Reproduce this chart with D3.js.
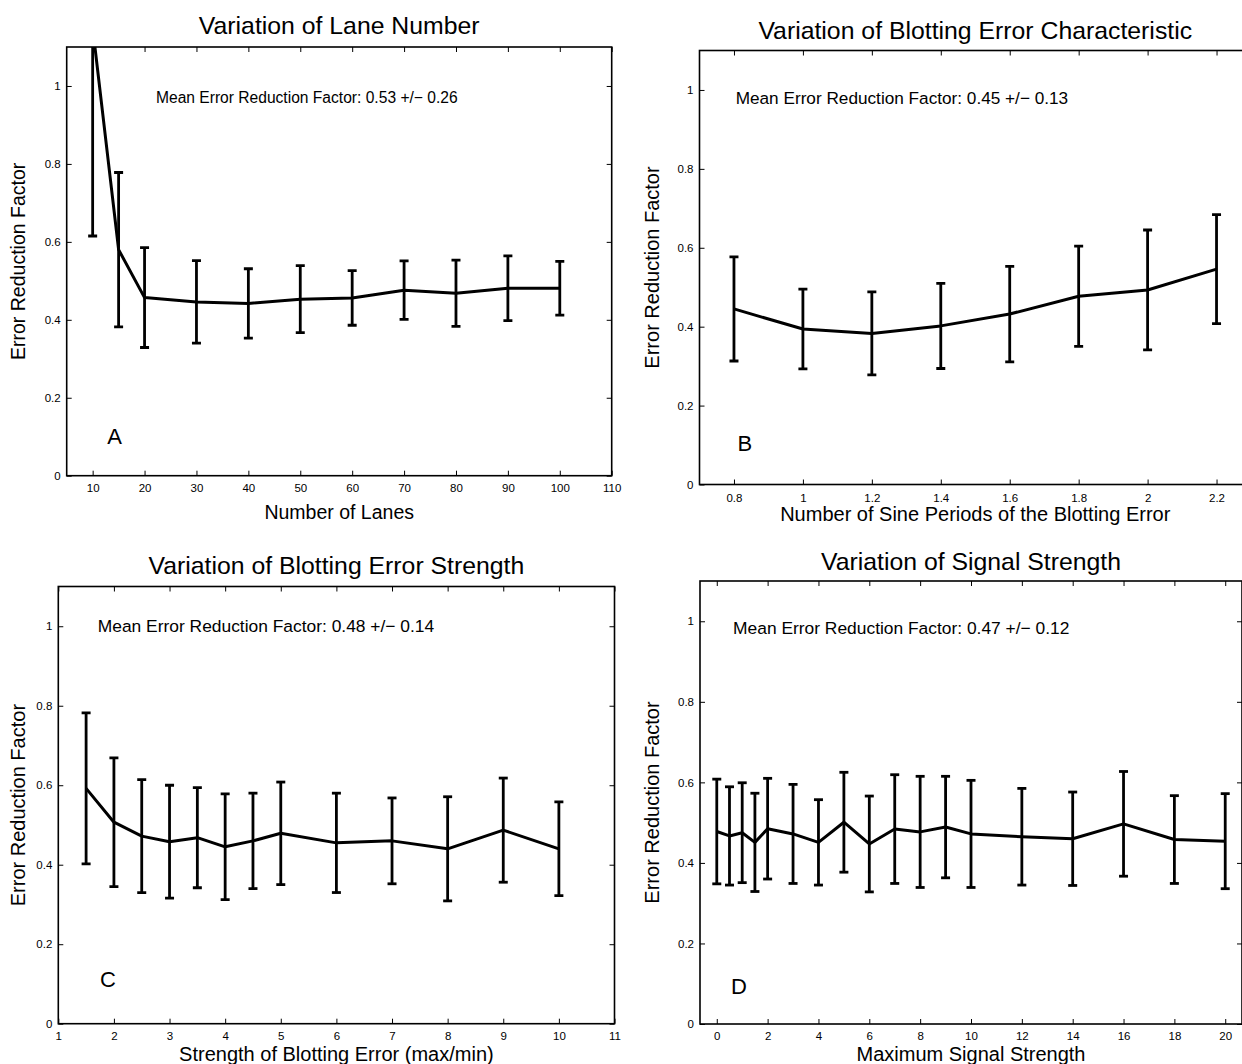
<!DOCTYPE html>
<meta charset="utf-8">
<html>
<head>
<script src="https://d3js.org/d3.v7.min.js"></script>
<style>
  body { margin: 0; background: #fff; }
  text { font-family: "Liberation Sans", Arial, Helvetica, sans-serif; fill: #000; }
</style>
</head>
<body>
<svg id="fig" width="1242" height="1064"></svg>

<script>
// ---------------- data ----------------
// A: number of lanes
const laneX    = [10, 15, 20, 30, 40, 50, 60, 70, 80, 90, 100];
const laneMean = [1.15, 0.58, 0.457, 0.446, 0.442, 0.453, 0.456, 0.476, 0.468, 0.481, 0.481];
const laneErr  = [0.535, 0.198, 0.128, 0.106, 0.089, 0.086, 0.07, 0.075, 0.085, 0.083, 0.069];
const laneTicks = [10, 20, 30, 40, 50, 60, 70, 80, 90, 100, 110];

// B: sine periods of the blotting error
const sineX    = [0.8, 1.0, 1.2, 1.4, 1.6, 1.8, 2.0, 2.2];
const sineMean = [0.445, 0.394, 0.383, 0.402, 0.432, 0.477, 0.493, 0.546];
const sineErr  = [0.132, 0.101, 0.105, 0.108, 0.121, 0.127, 0.152, 0.138];
const sineTicks = [0.8, 1, 1.2, 1.4, 1.6, 1.8, 2, 2.2];

// C: blotting error strength
const strX    = [1.5, 2, 2.5, 3, 3.5, 4, 4.5, 5, 6, 7, 8, 9, 10];
const strMean = [0.592, 0.507, 0.472, 0.458, 0.468, 0.445, 0.46, 0.479, 0.455, 0.46, 0.44, 0.487, 0.44];
const strErr  = [0.19, 0.162, 0.142, 0.142, 0.126, 0.133, 0.12, 0.129, 0.125, 0.108, 0.131, 0.131, 0.118];
const strTicks = [1, 2, 3, 4, 5, 6, 7, 8, 9, 10, 11];

// D: maximum signal strength
const sigX    = [0, 0.5, 1, 1.5, 2, 3, 4, 5, 6, 7, 8, 9, 10, 12, 14, 16, 18, 20];
const sigMean = [0.478, 0.467, 0.475, 0.451, 0.485, 0.472, 0.451, 0.501, 0.447, 0.484, 0.477, 0.489, 0.472, 0.465, 0.46, 0.497, 0.458, 0.454];
const sigErr  = [0.13, 0.122, 0.124, 0.122, 0.125, 0.123, 0.106, 0.124, 0.119, 0.135, 0.138, 0.126, 0.133, 0.12, 0.116, 0.13, 0.109, 0.118];
const sigTicks = [0, 2, 4, 6, 8, 10, 12, 14, 16, 18, 20];

const yTicks = [0, 0.2, 0.4, 0.6, 0.8, 1];

// ---------------- layout ----------------
const panels = [
  { id: "A", xs: laneX, ms: laneMean, es: laneErr, ticks: laneTicks,
    left: 66.7, right: 611.7, top: 47, bottom: 475.7, xDom: [5, 110],
    title: "Variation of Lane Number", titleY: 25,
    xlabel: "Number of Lanes", xlabelY: 512, ylabelX: 18, tickPad: 8, labelSize: 19.5,
    note: "Mean Error Reduction Factor: 0.53 +/\u2212 0.26", noteAt: [22.2, 0.97], noteSize: 15.6,
    letterAt: [12.8, 0.1] },
  { id: "B", xs: sineX, ms: sineMean, es: sineErr, ticks: sineTicks,
    left: 699.5, right: 1251, top: 50.5, bottom: 484.5, xDom: [0.7, 2.3],
    title: "Variation of Blotting Error Characteristic", titleY: 30,
    xlabel: "Number of Sine Periods of the Blotting Error", xlabelY: 514, ylabelX: 652, tickPad: 9, labelSize: 20,
    note: "Mean Error Reduction Factor: 0.45 +/\u2212 0.13", noteAt: [0.805, 0.979], noteSize: 17.2,
    letterAt: [0.81, 0.105] },
  { id: "C", xs: strX, ms: strMean, es: strErr, ticks: strTicks,
    left: 58.3, right: 614.5, top: 586.5, bottom: 1023.7, xDom: [1, 11],
    title: "Variation of Blotting Error Strength", titleY: 565,
    xlabel: "Strength of Blotting Error (max/min)", xlabelY: 1054, ylabelX: 18, tickPad: 8, labelSize: 20,
    note: "Mean Error Reduction Factor: 0.48 +/\u2212 0.14", noteAt: [1.71, 1.0], noteSize: 17.4,
    letterAt: [1.75, 0.112] },
  { id: "D", xs: sigX, ms: sigMean, es: sigErr, ticks: sigTicks,
    left: 700, right: 1242, top: 581, bottom: 1024, xDom: [-0.66, 20.66],
    title: "Variation of Signal Strength", titleY: 561,
    xlabel: "Maximum Signal Strength", xlabelY: 1054, ylabelX: 652, tickPad: 8, labelSize: 20,
    note: "Mean Error Reduction Factor: 0.47 +/\u2212 0.12", noteAt: [0.64, 0.984], noteSize: 17.4,
    letterAt: [0.56, 0.092] }
];

const svg = d3.select("#fig");
const fmt = d => String(d);
const capW = 4.5;

panels.forEach(p => {
  const x = d3.scaleLinear().domain(p.xDom).range([p.left, p.right]);
  const y = d3.scaleLinear().domain([0, 1.1]).range([p.bottom, p.top]);
  const g = svg.append("g").attr("id", "panel" + p.id);

  // clip for data
  svg.append("clipPath").attr("id", "clip" + p.id)
    .append("rect")
      .attr("x", p.left).attr("y", p.top)
      .attr("width", p.right - p.left).attr("height", p.bottom - p.top);

  // axes with inward ticks
  const axB = g.append("g").attr("transform", `translate(0,${p.bottom})`)
    .call(d3.axisBottom(x).tickValues(p.ticks).tickFormat(fmt).tickSizeInner(-5).tickSizeOuter(0).tickPadding(p.tickPad));
  const axT = g.append("g").attr("transform", `translate(0,${p.top})`)
    .call(d3.axisTop(x).tickValues(p.ticks).tickFormat("").tickSizeInner(-5).tickSizeOuter(0));
  const axL = g.append("g").attr("transform", `translate(${p.left},0)`)
    .call(d3.axisLeft(y).tickValues(yTicks).tickFormat(fmt).tickSizeInner(-5).tickSizeOuter(0).tickPadding(6));
  const axR = g.append("g").attr("transform", `translate(${p.right},0)`)
    .call(d3.axisRight(y).tickValues(yTicks).tickFormat("").tickSizeInner(-5).tickSizeOuter(0));
  [axB, axT, axL, axR].forEach(a => {
    a.select(".domain").remove();
    a.selectAll("line").attr("stroke", "#000").attr("stroke-width", 1);
    a.selectAll("text").style("font-size", "11.5px").attr("fill", "#000");
  });

  // box
  g.append("rect")
    .attr("x", p.left).attr("y", p.top)
    .attr("width", p.right - p.left).attr("height", p.bottom - p.top)
    .attr("fill", "none").attr("stroke", "#000").attr("stroke-width", 1.6);

  // data
  const pts = p.xs.map((v, i) => ({ x: v, m: p.ms[i], e: p.es[i] }));
  const dg = g.append("g").attr("clip-path", `url(#clip${p.id})`);

  dg.append("path")
    .datum(pts)
    .attr("fill", "none").attr("stroke", "#000").attr("stroke-width", 3)
    .attr("stroke-linejoin", "round")
    .attr("d", d3.line().x(d => x(d.x)).y(d => y(d.m)));

  const eb = dg.selectAll(".eb").data(pts).enter().append("g").attr("class", "eb")
    .attr("stroke", "#000").attr("stroke-width", 2.8);
  eb.append("line")
    .attr("x1", d => x(d.x)).attr("x2", d => x(d.x))
    .attr("y1", d => y(d.m - d.e)).attr("y2", d => y(d.m + d.e));
  eb.append("line")
    .attr("x1", d => x(d.x) - capW).attr("x2", d => x(d.x) + capW)
    .attr("y1", d => y(d.m + d.e)).attr("y2", d => y(d.m + d.e));
  eb.append("line")
    .attr("x1", d => x(d.x) - capW).attr("x2", d => x(d.x) + capW)
    .attr("y1", d => y(d.m - d.e)).attr("y2", d => y(d.m - d.e));

  // texts
  g.append("text")
    .attr("x", (p.left + p.right) / 2).attr("y", p.titleY)
    .attr("text-anchor", "middle").attr("dominant-baseline", "central")
    .style("font-size", "24.8px").text(p.title);

  g.append("text")
    .attr("x", (p.left + p.right) / 2).attr("y", p.xlabelY)
    .attr("text-anchor", "middle").attr("dominant-baseline", "central")
    .style("font-size", p.labelSize + "px").text(p.xlabel);

  g.append("text")
    .attr("transform", `translate(${p.ylabelX},${(p.top + p.bottom) / 2}) rotate(-90)`)
    .attr("text-anchor", "middle").attr("dominant-baseline", "central")
    .style("font-size", p.labelSize + "px").text("Error Reduction Factor");

  g.append("text")
    .attr("x", x(p.noteAt[0])).attr("y", y(p.noteAt[1]))
    .attr("dominant-baseline", "central")
    .style("font-size", p.noteSize + "px").text(p.note);

  g.append("text")
    .attr("x", x(p.letterAt[0])).attr("y", y(p.letterAt[1]))
    .attr("dominant-baseline", "central")
    .style("font-size", "22px").text(p.id);
});
</script>
</body>
</html>
